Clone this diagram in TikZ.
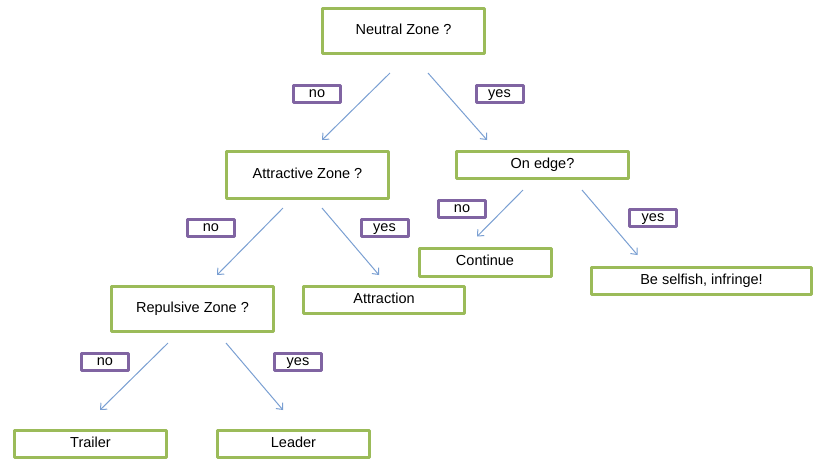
\documentclass[tikz,border=0pt]{standalone}
\usepackage{fontspec}
\setmainfont{Liberation Sans}
\usetikzlibrary{arrows.meta,calc}
\definecolor{boxgreen}{HTML}{9BBB59}
\definecolor{tagpurple}{HTML}{8064A2}
\definecolor{arrblue}{HTML}{7A9FD2}
\begin{document}
\begin{tikzpicture}[line join=round,x=1pt,y=-1pt,>={Straight Barb[length=5pt,width=9pt]}]
			\tikzset{every node/.style={font=\fontsize{14.5}{16}\selectfont,text height=1.5ex,text depth=.3ex},
				zone/.style={draw=boxgreen,line width=3pt,inner sep=0pt},
				tag/.style={draw=tagpurple,line width=3pt,inner sep=0pt,minimum width=47pt,minimum height=17pt},
				arr/.style={->,draw=arrblue,line width=1pt}}
			\useasboundingbox (0,0) rectangle (814,459);
			\node[zone,minimum width=162pt,minimum height=45pt] (nz) at (403.5,31) {Neutral Zone ?};
			\node[zone,minimum width=162pt,minimum height=47pt] (az) at (307.5,175) {Attractive Zone ?};
			\node[zone,minimum width=172pt,minimum height=27pt] (oe) at (542.5,165) {On edge?};
			\node[zone,minimum width=132pt,minimum height=28pt] (co) at (485,262) {Continue};
			\node[zone,minimum width=220pt,minimum height=27pt] (bs) at (701.5,281) {Be selfish, infringe!};
			\node[zone,minimum width=161pt,minimum height=27pt] (at) at (384,300) {Attraction};
			\node[zone,minimum width=162pt,minimum height=45pt] (rz) at (192.5,309) {Repulsive Zone ?};
			\node[zone,minimum width=152pt,minimum height=27pt] (tr) at (90.5,444) {Trailer};
			\node[zone,minimum width=152pt,minimum height=27pt] (le) at (293.5,444) {Leader};
			\node[tag] (nzno) at (317,94) {no};
			\node[tag] (nzyes) at (499.5,94) {yes};
			\node[tag] (azno) at (211,228) {no};
			\node[tag] (azyes) at (384.5,228) {yes};
			\node[tag] (oeno) at (462,209) {no};
			\node[tag] (oeyes) at (653,218) {yes};
			\node[tag] (rzno) at (105,362) {no};
			\node[tag] (rzyes) at (298,362) {yes};
			\draw[arr] ($(nz.south)+(-13.5,18)$) -- ($(az.north)+(14.5,-10)$);
			\draw[arr] ($(nz.south)+(24.5,18)$) -- ($(oe.north)+(-55.5,-10)$);
			\draw[arr] ($(az.south)+(-24.5,8)$) -- ($(rz.north)+(24.5,-10)$);
			\draw[arr] ($(az.south)+(14.5,8)$) -- ($(at.north)+(-5,-10)$);
			\draw[arr] ($(oe.south)+(-19.5,10)$) -- ($(co.north)+(-8,-10)$);
			\draw[arr] ($(oe.south)+(39.5,10)$) -- ($(bs.north)+(-64,-11)$);
			\draw[arr] ($(rz.south)+(-24.5,10)$) -- ($(tr.north)+(9.5,-19)$);
			\draw[arr] ($(rz.south)+(33.5,10)$) -- ($(le.north)+(-10.5,-19)$);
		\end{tikzpicture}
\end{document}
